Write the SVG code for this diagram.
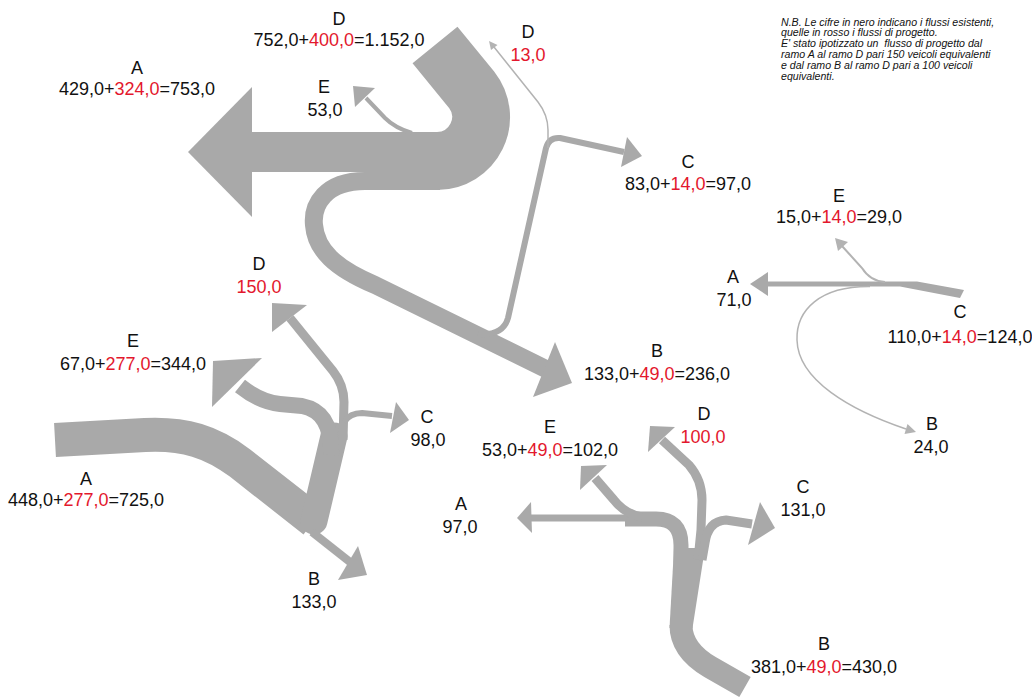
<svg xmlns="http://www.w3.org/2000/svg" width="1032" height="697" viewBox="0 0 1032 697">
<style>
.lbl{font-family:"Liberation Sans",Arial,Helvetica,sans-serif;font-size:18px;text-anchor:middle;fill:#111}
.r{fill:#e3182d}
.note{font-family:"Liberation Sans",Arial,Helvetica,sans-serif;font-size:10.6px;font-style:italic;fill:#111}
.b{fill:none;stroke:#a9a9a9;stroke-linejoin:round}
.h{fill:#a9a9a9}
.t{fill:none;stroke:#b3b3b3}
.th{fill:#b3b3b3}
</style>
<rect width="1032" height="697" fill="#fff"/>
<g id="connectors">
  <!-- top junction -->
  <g id="flows-top">
    <path class="b" stroke-width="58" d="M435,45 L471.7,89.9 A44,44 0 0 1 437,161"/>
    <rect class="h" x="248" y="132" width="192" height="40"/>
    <polygon class="h" points="252,87 188,152 252,217"/>
    <path class="b" stroke-width="18" d="M440,181 L365,181 C325,181 312,205 314,225 C316,250 335,268 375,285 L546,369"/>
    <polygon class="h" points="555,342 572,383 533,397"/>
    <path class="b" stroke-width="4" d="M412,133 Q395,128 385,118 L366,98"/>
    <polygon class="h" points="353,86 375,88 355,107"/>
    <path class="b" stroke-width="6" d="M478,334 Q503,336 508,318 L546,148 Q549,137 560,138 L624,152"/>
    <polygon class="h" points="627,137 642,156 621,167"/>
    <path class="t" stroke-width="1.5" d="M548,148 L548,130 Q548,115 538,102 L494,47"/>
    <polygon class="th" points="489,41 497.5,45 491,50"/>
  </g>
  <!-- left junction -->
  <g id="flows-left">
    <path class="b" stroke-width="34" d="M55,440 L145,435 C185,433 212,442 240,463 L314,521"/>
    <path class="b" stroke-width="27" stroke-linecap="round" d="M314,521 L334,436"/>
    <path class="b" stroke-width="16" d="M331,455 C332,425 322,410 302,406 L280,404 Q260,402 240,386"/>
    <polygon class="h" points="213,361 262,358 212,407"/>
    <path class="b" stroke-width="9" d="M343,440 L344,402 Q344,385 333,371 L290,318"/>
    <polygon class="h" points="272,303 307,305 272,332"/>
    <path class="b" stroke-width="6" d="M344,422 Q350,413 362,413 L392,416"/>
    <polygon class="h" points="396,402 409,420 390,433"/>
    <path class="b" stroke-width="8" d="M312,532 L350,562"/>
    <polygon class="h" points="358,546 367,575 338,580"/>
  </g>
  <!-- bottom junction -->
  <g id="flows-bottom">
    <path class="b" stroke-width="23" d="M745,687 L710,667 Q681,650 681,625"/>
    <polygon class="h" points="669.5,628 692.5,628 705,548 674,548"/>
    <path class="b" stroke-width="15" d="M681,570 L681,545 Q681,519 656,519 L625,519"/>
    <path class="b" stroke-width="7" d="M640,518 L528,518"/>
    <polygon class="h" points="531,502 517,518 532,533"/>
    <path class="b" stroke-width="9" d="M642,517 Q625,514 614,500 L595,478"/>
    <polygon class="h" points="581,466 607,465 580,490"/>
    <path class="b" stroke-width="9" d="M698,560 L701,530 L702,500 Q702,480 689,465 L662,440"/>
    <polygon class="h" points="650,426 675,427 648,452"/>
    <path class="b" stroke-width="9" d="M702,560 L705,543 Q708,521 726,520 L752,524"/>
    <polygon class="h" points="760,502 775,528 748,545"/>
  </g>
  <!-- right junction -->
  <g id="flows-right">
    <polygon class="h" points="766,281.5 917,281.5 964,290 960,298 900,286.5 766,286.5"/>
    <polygon class="h" points="768,272 750,284 768,296"/>
    <path class="t" stroke-width="2" d="M885,282 Q870,281 862,268 L842,246"/>
    <polygon class="th" points="835,238 848,242 838,251"/>
    <path class="t" stroke-width="1.5" d="M870,286.5 C820,286 796,310 797,340 C798,380 850,410 906,429"/>
    <polygon class="th" points="907.5,424 916,432 904.5,434"/>
  </g>
</g>
<g id="node-top-A"><text class="lbl" x="137" y="74">A</text><text class="lbl" x="137" y="95">429,0+<tspan class="r">324,0</tspan>=753,0</text></g>
<g id="node-top-D"><text class="lbl" x="339" y="25">D</text><text class="lbl" x="339" y="46">752,0+<tspan class="r">400,0</tspan>=1.152,0</text></g>
<g id="node-top-E"><text class="lbl" x="324" y="93">E</text><text class="lbl" x="325" y="116">53,0</text></g>
<g id="node-top-D13"><text class="lbl" x="528" y="38">D</text><text class="lbl r" x="528" y="61">13,0</text></g>
<g id="node-top-C"><text class="lbl" x="688" y="168">C</text><text class="lbl" x="688" y="190">83,0+<tspan class="r">14,0</tspan>=97,0</text></g>
<g id="node-top-B"><text class="lbl" x="657" y="357">B</text><text class="lbl" x="657" y="380">133,0+<tspan class="r">49,0</tspan>=236,0</text></g>
<g id="node-right-E"><text class="lbl" x="839" y="202">E</text><text class="lbl" x="839" y="223">15,0+<tspan class="r">14,0</tspan>=29,0</text></g>
<g id="node-right-A"><text class="lbl" x="733" y="283">A</text><text class="lbl" x="734" y="306">71,0</text></g>
<g id="node-right-C"><text class="lbl" x="960" y="318">C</text><text class="lbl" x="960" y="343">110,0+<tspan class="r">14,0</tspan>=124,0</text></g>
<g id="node-right-B"><text class="lbl" x="932" y="430">B</text><text class="lbl" x="931" y="453">24,0</text></g>
<g id="node-left-D"><text class="lbl" x="259" y="270">D</text><text class="lbl r" x="259" y="293">150,0</text></g>
<g id="node-left-E"><text class="lbl" x="133" y="347">E</text><text class="lbl" x="133" y="370">67,0+<tspan class="r">277,0</tspan>=344,0</text></g>
<g id="node-left-C"><text class="lbl" x="427" y="423">C</text><text class="lbl" x="428" y="446">98,0</text></g>
<g id="node-left-A"><text class="lbl" x="86" y="485">A</text><text class="lbl" x="86" y="506">448,0+<tspan class="r">277,0</tspan>=725,0</text></g>
<g id="node-left-B"><text class="lbl" x="314" y="585">B</text><text class="lbl" x="314" y="608">133,0</text></g>
<g id="node-bottom-E"><text class="lbl" x="550" y="433">E</text><text class="lbl" x="550" y="456">53,0+<tspan class="r">49,0</tspan>=102,0</text></g>
<g id="node-bottom-D"><text class="lbl" x="704" y="420">D</text><text class="lbl r" x="703" y="443">100,0</text></g>
<g id="node-bottom-A"><text class="lbl" x="461" y="510">A</text><text class="lbl" x="460" y="533">97,0</text></g>
<g id="node-bottom-C"><text class="lbl" x="803" y="493">C</text><text class="lbl" x="803" y="516">131,0</text></g>
<g id="node-bottom-B"><text class="lbl" x="824" y="650">B</text><text class="lbl" x="824" y="673">381,0+<tspan class="r">49,0</tspan>=430,0</text></g>
<g id="note">
  <text class="note" x="781" y="25.5">N.B. Le cifre in nero indicano i flussi esistenti,</text>
  <text class="note" x="781" y="36.4">quelle in rosso i flussi di progetto.</text>
  <text class="note" x="781" y="47.3" xml:space="preserve">E' stato ipotizzato un  flusso di progetto dal</text>
  <text class="note" x="781" y="58.2">ramo A al ramo D pari 150 veicoli equivalenti</text>
  <text class="note" x="781" y="69.1">e dal ramo B al ramo D pari a 100 veicoli</text>
  <text class="note" x="781" y="80">equivalenti.</text>
</g>
</svg>
